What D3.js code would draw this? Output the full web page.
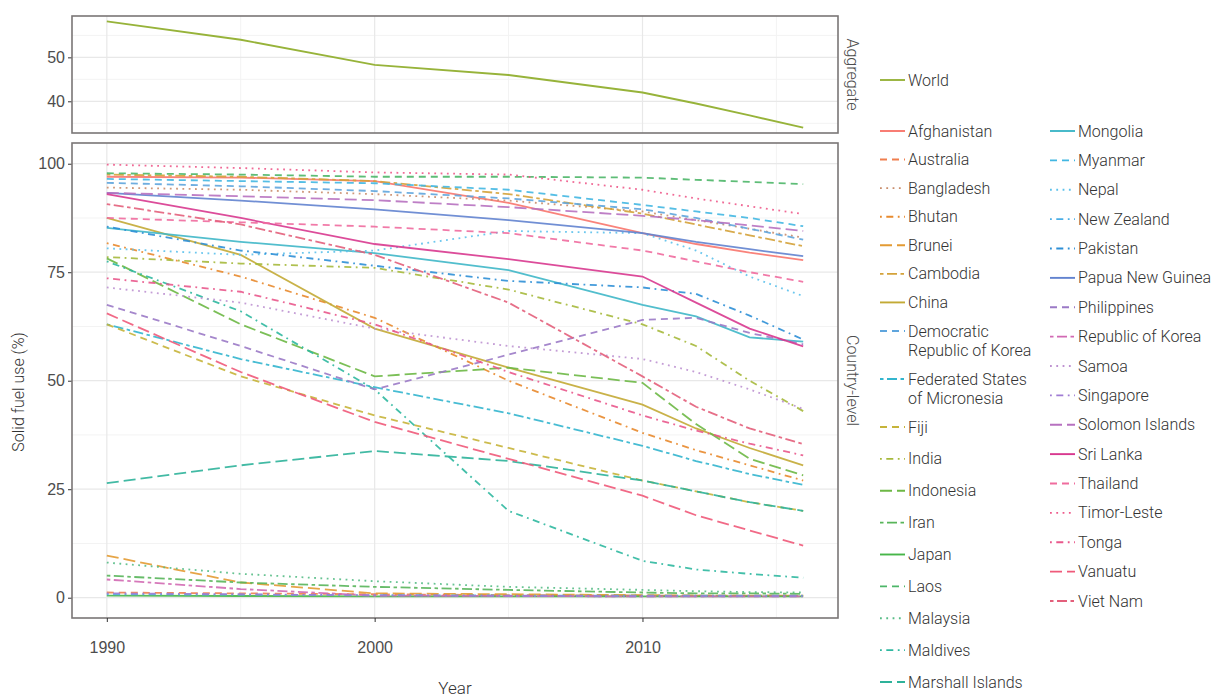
<!DOCTYPE html>
<html>
  <head>
    <meta charset="utf-8">
    <title>Solid fuel use</title>
    <script src="https://d3js.org/d3.v7.min.js"></script>
    <style>
      body { margin: 0; background: #fff; }
      svg { font-family: Roboto, "Noto Sans", sans-serif; font-weight: 300; }
      .tick text { font-size: 16px; fill: #4d4d4d; }
      .tick line { stroke: #333; }
      .legendText { font-size: 16px; fill: #333; }
      .strip { font-size: 16px; fill: #4d4d4d; }
      .axisTitle { font-size: 16px; fill: #333; }
    </style>
  </head>
  <body>
    <svg id="chart" width="1231" height="698"></svg>
    <script>
      // data
      const years = [1990, 1995, 2000, 2005, 2010, 2012, 2014, 2016];
      const worldShare = [58.2, 54.0, 48.3, 46.0, 42.0, 39.5, 36.8, 34.0];
      const countries = ["Afghanistan", "Australia", "Bangladesh", "Bhutan", "Brunei", "Cambodia", "China",
        "Democratic Republic of Korea", "Federated States of Micronesia", "Fiji", "India", "Indonesia", "Iran",
        "Japan", "Laos", "Malaysia", "Maldives", "Marshall Islands", "Mongolia", "Myanmar", "Nepal",
        "New Zealand", "Pakistan", "Papua New Guinea", "Philippines", "Republic of Korea", "Samoa",
        "Singapore", "Solomon Islands", "Sri Lanka", "Thailand", "Timor-Leste", "Tonga", "Vanuatu", "Viet Nam"];
      const countryShare = [
        [97.0, 96.8, 96.0, 91.0, 84.0, 81.5, 79.5, 77.8],
        [1.2, 1.0, 0.8, 0.6, 0.5, 0.5, 0.5, 0.5],
        [94.5, 94.0, 93.0, 91.5, 89.0, 87.0, 85.0, 83.0],
        [81.7, 74.0, 64.5, 50.0, 38.0, 34.0, 30.5, 27.0],
        [9.7, 3.5, 1.0, 0.8, 0.6, 0.5, 0.5, 0.5],
        [97.5, 97.0, 96.0, 93.0, 88.5, 86.0, 83.5, 81.0],
        [87.5, 79.0, 62.0, 53.0, 44.5, 39.0, 34.5, 30.5],
        [95.6, 94.8, 93.7, 92.0, 89.5, 87.5, 85.0, 82.5],
        [63.0, 55.0, 48.5, 42.5, 35.0, 31.5, 28.5, 26.0],
        [63.0, 51.0, 42.0, 34.5, 27.0, 24.5, 22.0, 20.0],
        [78.5, 77.0, 76.0, 71.0, 63.0, 58.0, 50.0, 43.0],
        [78.2, 63.0, 51.0, 53.0, 49.5, 40.0, 32.0, 28.2],
        [5.1, 3.5, 2.5, 1.8, 1.2, 1.0, 1.0, 0.9],
        [0.5, 0.4, 0.3, 0.3, 0.3, 0.3, 0.3, 0.3],
        [97.8, 97.5, 97.0, 97.0, 96.8, 96.3, 95.8, 95.3],
        [8.1, 5.5, 3.8, 2.5, 1.8, 1.5, 1.3, 1.2],
        [77.5, 66.0, 48.0, 20.0, 8.5, 6.5, 5.5, 4.6],
        [26.4, 30.5, 33.8, 31.5, 27.0, 24.5, 22.0, 20.0],
        [85.2, 82.0, 79.4, 75.5, 67.5, 64.8, 60.0, 59.0],
        [96.5, 96.0, 95.5, 94.0, 90.5, 89.0, 87.5, 85.6],
        [80.5, 79.0, 80.0, 84.5, 84.0, 80.0, 74.0, 69.5],
        [0.8, 0.7, 0.6, 0.5, 0.5, 0.5, 0.5, 0.5],
        [85.5, 80.0, 76.5, 73.0, 71.5, 70.0, 65.0, 59.5],
        [93.3, 91.5, 89.5, 87.0, 84.0, 82.0, 80.3, 78.7],
        [67.5, 58.0, 48.0, 56.0, 64.0, 64.5, 61.0, 58.4],
        [4.2, 2.0, 0.5, 0.4, 0.3, 0.3, 0.3, 0.3],
        [71.5, 68.0, 62.0, 58.0, 55.0, 52.0, 48.0, 43.5],
        [1.0, 0.8, 0.5, 0.4, 0.3, 0.3, 0.3, 0.3],
        [93.3, 92.5, 91.6, 90.0, 88.0, 87.0, 85.8, 84.5],
        [93.0, 87.5, 81.5, 78.0, 74.0, 68.0, 62.0, 57.9],
        [87.5, 86.5, 85.5, 84.0, 80.0, 77.5, 75.0, 72.8],
        [99.8, 99.0, 98.0, 97.5, 94.0, 92.0, 90.2, 88.4],
        [73.6, 70.5, 63.0, 52.0, 42.0, 38.5, 35.5, 32.8],
        [65.5, 52.0, 40.5, 32.0, 23.5, 19.0, 15.5, 12.0],
        [90.7, 86.0, 79.0, 68.0, 51.0, 44.0, 39.0, 35.4]
      ];
      // styles
      const worldColour = "#97b33a";
      const countryColours = ["#f8766d", "#f07e4e", "#c98d6b", "#e88a2e", "#e39b33", "#d4a23a", "#c3aa35",
        "#5fa5dd", "#33b5ce", "#c6b43a", "#a6b93c", "#6db845", "#58b55a", "#47b649", "#4db668", "#57bc86",
        "#2fb8a0", "#2eb29a", "#3fb7c8", "#42b7e2", "#5cc1ec", "#4baee6", "#2e8fd6", "#6283cf", "#9b7ac6",
        "#d169b3", "#be92d1", "#a07cd4", "#b771c0", "#d8388f", "#ef6c9e", "#ee5a8b", "#e9588c", "#ef5a7a", "#e35f7b"];
      const countryLinetypes = ["solid", "dashed", "dotted", "dotdash", "longdash", "twodash", "solid",
        "dashed", "twodash", "dashed", "dotdash", "longdash", "twodash", "solid", "dashed", "dotted",
        "dotdash", "longdash", "solid", "dashed", "dotted", "dotdash", "dotdash", "solid", "dashed",
        "twodash", "dotted", "dotdash", "longdash", "solid", "dashed", "dotted", "dotdash", "longdash", "twodash"];
      const dashes = { solid: null, dashed: "7,5", dotted: "1.8,4.5", dotdash: "1.8,4.5,7,4.5",
        longdash: "12,5", twodash: "3.5,3.5,10,3.5" };
      const legendLabels = { "Democratic Republic of Korea": ["Democratic", "Republic of Korea"],
        "Federated States of Micronesia": ["Federated States", "of Micronesia"] };

      const chart = d3.select("#chart");
      const panelLeft = 72, panelRight = 838;
      const topPanel = { top: 16, bottom: 133 };
      const bottomPanel = { top: 143, bottom: 618 };

      function expanded(extent) {
        let pad = (extent[1] - extent[0]) * 0.05;
        return [extent[0] - pad, extent[1] + pad];
      }

      const x = d3.scaleLinear()
        .domain(expanded(d3.extent(years)))
        .range([panelLeft, panelRight]);
      const yTop = d3.scaleLinear()
        .domain(expanded(d3.extent(worldShare)))
        .range([topPanel.bottom, topPanel.top]);
      const yBottom = d3.scaleLinear()
        .domain(expanded([d3.min(countryShare, function(d) { return d3.min(d); }),
          d3.max(countryShare, function(d) { return d3.max(d); })]))
        .range([bottomPanel.bottom, bottomPanel.top]);

      function drawPanel(y, panel, majorY, minorY, label) {
        let g = chart.append("g");
        g.append("rect")
          .attr("x", panelLeft).attr("y", panel.top)
          .attr("width", panelRight - panelLeft).attr("height", panel.bottom - panel.top)
          .attr("fill", "#fff");
        g.selectAll(".minorY").data(minorY).enter().append("line")
          .attr("x1", panelLeft).attr("x2", panelRight)
          .attr("y1", function(d) { return y(d); }).attr("y2", function(d) { return y(d); })
          .attr("stroke", "#f3f3f3").attr("stroke-width", 1);
        g.selectAll(".minorX").data([1995, 2005, 2015]).enter().append("line")
          .attr("y1", panel.top).attr("y2", panel.bottom)
          .attr("x1", function(d) { return x(d); }).attr("x2", function(d) { return x(d); })
          .attr("stroke", "#f3f3f3").attr("stroke-width", 1);
        g.selectAll(".majorY").data(majorY).enter().append("line")
          .attr("x1", panelLeft).attr("x2", panelRight)
          .attr("y1", function(d) { return y(d); }).attr("y2", function(d) { return y(d); })
          .attr("stroke", "#e8e8e8").attr("stroke-width", 1.2);
        g.selectAll(".majorX").data([1990, 2000, 2010]).enter().append("line")
          .attr("y1", panel.top).attr("y2", panel.bottom)
          .attr("x1", function(d) { return x(d); }).attr("x2", function(d) { return x(d); })
          .attr("stroke", "#e8e8e8").attr("stroke-width", 1.2);
        let yAxis = chart.append("g")
          .attr("transform", "translate(" + panelLeft + ",0)")
          .call(d3.axisLeft(y).tickValues(majorY).tickSize(4).tickPadding(3));
        yAxis.select(".domain").remove();
        chart.append("text")
          .classed("strip", true)
          .attr("transform", "translate(" + 847 + "," + ((panel.top + panel.bottom) / 2) + ") rotate(90)")
          .attr("text-anchor", "middle")
          .text(label);
        return g;
      }

      drawPanel(yTop, topPanel, [40, 50], [35, 45, 55], "Aggregate");
      drawPanel(yBottom, bottomPanel, [0, 25, 50, 75, 100], [12.5, 37.5, 62.5, 87.5], "Country-level");

      const lineTop = d3.line()
        .x(function(d, i) { return x(years[i]); })
        .y(function(d) { return yTop(d); });
      const lineBottom = d3.line()
        .x(function(d, i) { return x(years[i]); })
        .y(function(d) { return yBottom(d); });

      chart.append("path")
        .attr("d", lineTop(worldShare))
        .attr("fill", "none")
        .attr("stroke", worldColour)
        .attr("stroke-width", 1.9);

      chart.append("g")
        .selectAll("path")
          .data(countryShare)
        .enter().append("path")
          .attr("d", function(d) { return lineBottom(d); })
          .attr("fill", "none")
          .attr("stroke", function(d, i) { return countryColours[i]; })
          .attr("stroke-dasharray", function(d, i) { return dashes[countryLinetypes[i]]; })
          .attr("stroke-width", 1.8)
          .attr("stroke-opacity", 0.9);

      // panel borders on top of the lines
      [topPanel, bottomPanel].forEach(function(p) {
        chart.append("rect")
          .attr("x", panelLeft).attr("y", p.top)
          .attr("width", panelRight - panelLeft).attr("height", p.bottom - p.top)
          .attr("fill", "none").attr("stroke", "#7a7676").attr("stroke-width", 1.6);
      });

      const xAxis = chart.append("g")
        .attr("transform", "translate(0," + bottomPanel.bottom + ")")
        .call(d3.axisBottom(x).tickValues([1990, 2000, 2010]).tickFormat(d3.format("d")).tickSize(4).tickPadding(20));
      xAxis.select(".domain").remove();

      chart.append("text")
        .classed("axisTitle", true)
        .attr("x", (panelLeft + panelRight) / 2)
        .attr("y", 694)
        .attr("text-anchor", "middle")
        .style("font-size", "17px")
        .text("Year");
      chart.append("text")
        .classed("axisTitle", true)
        .attr("transform", "translate(24," + 392 + ") rotate(-90)")
        .attr("text-anchor", "middle")
        .text("Solid fuel use (%)");

      // legend
      function legendKey(g, colour, type, x0, y0) {
        g.append("line")
          .attr("x1", x0).attr("x2", x0 + 25)
          .attr("y1", y0).attr("y2", y0)
          .attr("stroke", colour)
          .attr("stroke-width", 1.9)
          .attr("stroke-dasharray", dashes[type]);
      }
      const legend = chart.append("g");
      legendKey(legend, worldColour, "solid", 880, 80);
      legend.append("text").classed("legendText", true)
        .attr("x", 908).attr("y", 80).attr("dy", "0.35em").text("World");

      // column one rows grow with two-line labels
      let units = [], u = 0;
      const splitAt = 18;
      countries.slice(0, splitAt).forEach(function(c) {
        units.push(u);
        u += legendLabels[c] ? 1.6 : 1;
      });
      const rowOne = d3.scaleLinear().domain([0, 7, 10.2, 18.2]).range([131, 331, 427, 682]);
      const rowTwo = d3.scaleLinear().domain([0, 16]).range([131, 601]);

      countries.forEach(function(c, i) {
        let colOne = i < splitAt;
        let x0 = colOne ? 880 : 1050;
        let y0 = colOne ? rowOne(units[i]) : rowTwo(i - splitAt);
        legendKey(legend, countryColours[i], countryLinetypes[i], x0, y0);
        let lines = legendLabels[c] || [c];
        let t = legend.append("text").classed("legendText", true)
          .attr("x", x0 + 28).attr("y", y0).attr("dy", "0.35em");
        lines.forEach(function(l, j) {
          t.append("tspan").attr("x", x0 + 28).attr("dy", j == 0 ? "0.35em" : "1.2em").text(l);
        });
      });
    </script>
  </body>
</html>
